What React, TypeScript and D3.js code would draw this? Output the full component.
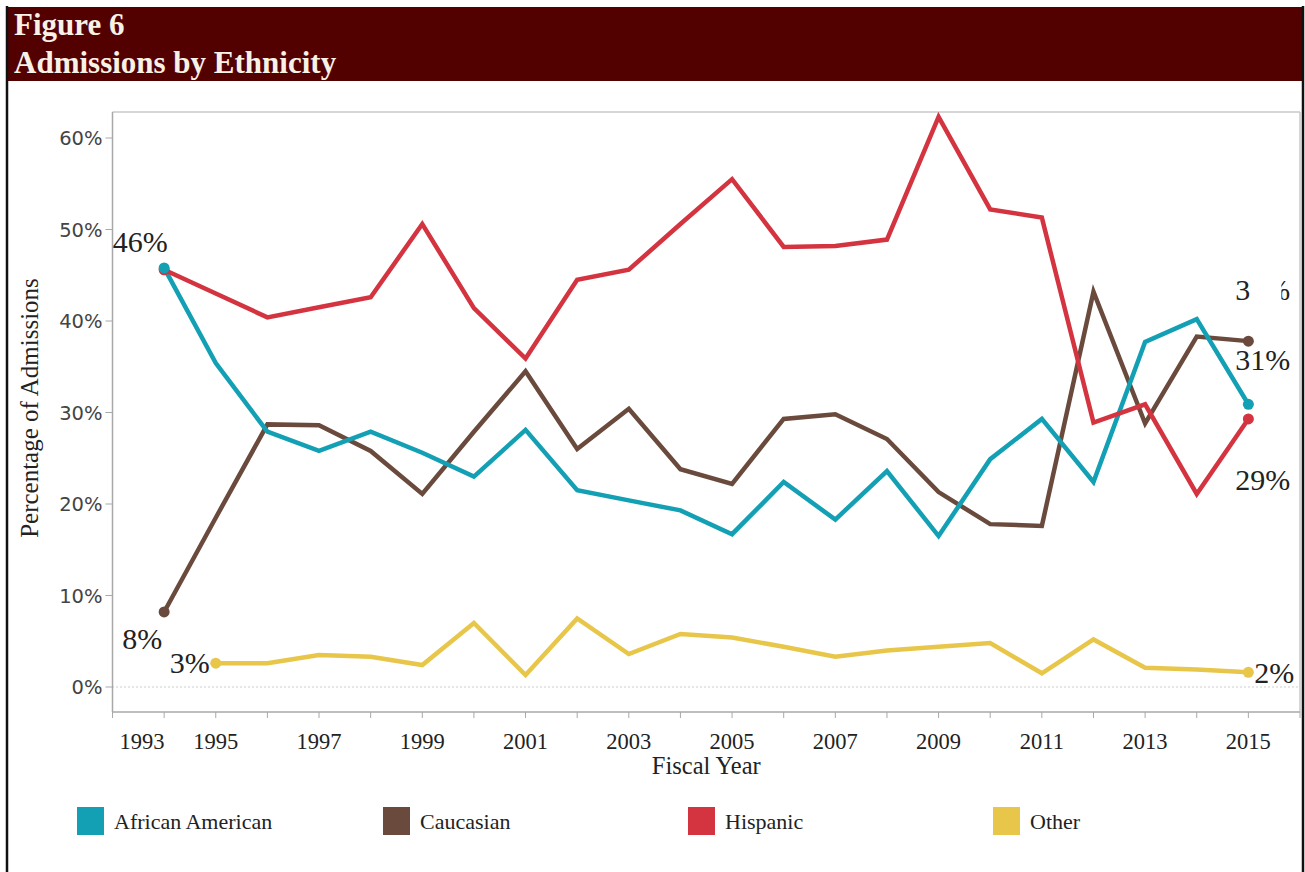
import React from "react";
import * as d3 from "d3";

const years = [1994, 1995, 1996, 1997, 1998, 1999, 2000, 2001, 2002, 2003, 2004, 2005, 2006, 2007, 2008, 2009, 2010, 2011, 2012, 2013, 2014, 2015];
const otherYears = [1995, 1996, 1997, 1998, 1999, 2000, 2001, 2002, 2003, 2004, 2005, 2006, 2007, 2008, 2009, 2010, 2011, 2012, 2013, 2014, 2015];

const africanAmerican = [45.8, 35.4, 27.9, 25.8, 27.9, 25.6, 23.0, 28.1, 21.5, 20.4, 19.3, 16.7, 22.4, 18.3, 23.6, 16.5, 24.9, 29.3, 22.4, 37.7, 40.2, 30.9];
const caucasian = [8.2, 18.5, 28.7, 28.6, 25.8, 21.1, 27.9, 34.5, 26.0, 30.4, 23.8, 22.2, 29.3, 29.8, 27.1, 21.3, 17.8, 17.6, 43.2, 28.8, 38.3, 37.8];
const hispanic = [45.6, 43.0, 40.4, 41.5, 42.6, 50.6, 41.4, 35.9, 44.5, 45.6, 50.6, 55.5, 48.1, 48.2, 48.9, 62.3, 52.2, 51.3, 28.9, 30.9, 21.1, 29.3];
const other = [2.6, 2.6, 3.5, 3.3, 2.4, 7.0, 1.3, 7.5, 3.6, 5.8, 5.4, 4.4, 3.3, 4.0, 4.4, 4.8, 1.5, 5.2, 2.1, 1.9, 1.6];

const seriesNames = ["African American", "Caucasian", "Hispanic", "Other"];
const seriesColors = ["#14a0b4", "#6a4a3c", "#d3343f", "#e8c64a"];

const yTicks = [0, 10, 20, 30, 40, 50, 60];
const xTickYears = [1993, 1994, 1995, 1996, 1997, 1998, 1999, 2000, 2001, 2002, 2003, 2004, 2005, 2006, 2007, 2008, 2009, 2010, 2011, 2012, 2013, 2014, 2015, 2016];
const xLabelYears = [1993, 1995, 1997, 1999, 2001, 2003, 2005, 2007, 2009, 2011, 2013, 2015];

const serif = "'Liberation Serif', 'Times New Roman', serif";
const sans = "'DejaVu Sans', Verdana, sans-serif";

export default function App() {
  const W = 1305, H = 872;
  const left = 112.5, right = 1300, top = 112, bottom = 712;
  const x = d3.scaleLinear().domain([1993, 2016]).range([left, right]);
  const y = d3.scaleLinear().domain([0, 60]).range([687, 138]);

  const mk = (xs: number[], vs: number[]) => xs.map((yr, i) => [yr, vs[i]] as [number, number]);
  const series = [
    mk(years, africanAmerican),
    mk(years, caucasian),
    mk(years, hispanic),
    mk(otherYears, other),
  ];
  const line = d3.line<[number, number]>().x(d => x(d[0])).y(d => y(d[1]));
  const drawOrder = [3, 1, 0, 2];
  const dotOrder = [3, 1, 2, 0];

  const fmt = (v: number) => `${Math.round(v)}%`;
  const aaF = series[0][0], aaL = series[0][series[0].length - 1];
  const caF = series[1][0], caL = series[1][series[1].length - 1];
  const hiL = series[2][series[2].length - 1];
  const otF = series[3][0], otL = series[3][series[3].length - 1];

  const legendX = [77, 383, 688, 993];

  return (
    <svg width={W} height={H} style={{ position: "absolute", left: 0, top: 0, background: "#fff" }}>
      <rect x={0} y={0} width={W} height={H} fill="#fff" />
      {/* header */}
      <rect x={7} y={7} width={1296} height={74} fill="#520000" />
      <text x={14} y={35} fontFamily={serif} fontWeight="bold" fontSize={31} fill="#f7f1e6">Figure 6</text>
      <text x={14} y={73} fontFamily={serif} fontWeight="bold" fontSize={31} fill="#f7f1e6">Admissions by Ethnicity</text>
      {/* outer frame */}
      <line x1={7} y1={6} x2={7} y2={H} stroke="#111" strokeWidth={2.5} />
      <line x1={1303} y1={6} x2={1303} y2={H} stroke="#111" strokeWidth={2.5} />

      {/* plot frame */}
      <line x1={left} y1={top} x2={right} y2={top} stroke="#c8c8c8" strokeWidth={1.5} />
      <line x1={right} y1={top} x2={right} y2={bottom} stroke="#c8c8c8" strokeWidth={1.5} />
      <line x1={left} y1={top} x2={left} y2={bottom} stroke="#a8a8a8" strokeWidth={1.5} />
      <line x1={left} y1={bottom} x2={right} y2={bottom} stroke="#a8a8a8" strokeWidth={1.5} />

      {/* zero line */}
      <line x1={left} y1={y(0)} x2={right} y2={y(0)} stroke="#9a9a9a" strokeWidth={1} strokeDasharray="1,3" />

      {/* y axis */}
      {yTicks.map(t => (
        <g key={t}>
          <line x1={left - 7} x2={left} y1={y(t)} y2={y(t)} stroke="#a8a8a8" strokeWidth={1} />
          <text x={left - 10} y={y(t)} dy="0.36em" textAnchor="end" fontFamily={sans} fontSize={19.5} fill="#444">{t}%</text>
        </g>
      ))}
      <text transform={`translate(38, ${(top + bottom) / 2 - 4}) rotate(-90)`} textAnchor="middle" fontFamily={serif} fontSize={25} fill="#222">Percentage of Admissions</text>

      {/* x axis */}
      {xTickYears.map(t => (
        <line key={t} x1={x(t)} x2={x(t)} y1={bottom} y2={bottom + 6} stroke="#a8a8a8" strokeWidth={1} />
      ))}
      {xLabelYears.map((t, i) => (
        <text key={t} x={i === 0 ? x(t) + 7 : x(t)} y={bottom + 37} textAnchor={i === 0 ? "start" : "middle"} fontFamily={serif} fontSize={22.5} fill="#222">{t}</text>
      ))}
      <text x={(left + right) / 2} y={bottom + 62} textAnchor="middle" fontFamily={serif} fontSize={24.5} fill="#222">Fiscal Year</text>

      {/* lines */}
      {drawOrder.map(i => (
        <path key={i} d={line(series[i]) || ""} fill="none" stroke={seriesColors[i]} strokeWidth={4.5} strokeLinejoin="miter" strokeLinecap="butt" />
      ))}
      {/* end points */}
      {dotOrder.map(i => {
        const s = series[i];
        return [s[0], s[s.length - 1]].map((p, k) => (
          <circle key={`${i}-${k}`} cx={x(p[0])} cy={y(p[1])} r={5.5} fill={seriesColors[i]} />
        ));
      })}

      {/* data labels */}
      <g fontFamily={serif} fontSize={30} fill="#222">
        <text x={x(aaF[0]) - 24} y={y(aaF[1]) - 16} textAnchor="middle">{fmt(aaF[1])}</text>
        <text x={x(caF[0]) - 22} y={y(caF[1]) + 37} textAnchor="middle">{fmt(caF[1])}</text>
        <text x={x(otF[0]) - 6} y={y(otF[1]) + 10} textAnchor="end">{fmt(otF[1])}</text>
        <text x={x(aaL[0]) - 13} y={y(aaL[1]) - 34} textAnchor="start">{fmt(aaL[1])}</text>
        <text x={x(hiL[0]) - 13} y={y(hiL[1]) + 71} textAnchor="start">{fmt(hiL[1])}</text>
        <text x={x(otL[0]) + 6} y={y(otL[1]) + 11} textAnchor="start">{fmt(otL[1])}</text>
        <text x={x(caL[0]) - 13} y={y(caL[1]) - 41} textAnchor="start">{fmt(caL[1])}</text>
      </g>
      <rect x={x(caL[0]) + 2} y={y(caL[1]) - 70} width={31} height={38} fill="#fff" />

      {/* legend */}
      {seriesNames.map((n, i) => (
        <g key={n}>
          <rect x={legendX[i]} y={807} width={27} height={28} fill={seriesColors[i]} />
          <text x={legendX[i] + 37} y={829} fontFamily={serif} fontSize={22} fill="#222">{n}</text>
        </g>
      ))}
    </svg>
  );
}
